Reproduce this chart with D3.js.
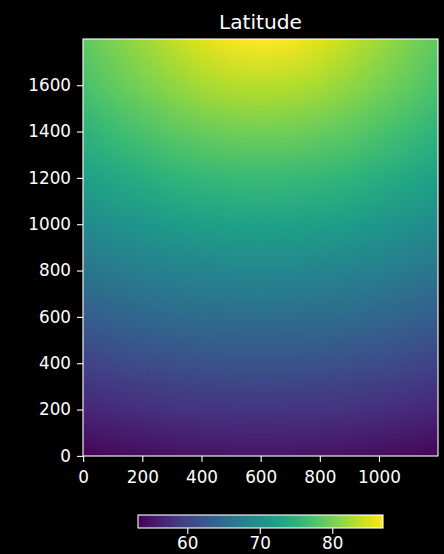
<!DOCTYPE html>
<html>
<head>
<meta charset="utf-8">
<script src="https://cdn.jsdelivr.net/npm/d3@7"></script>
<style>
  body { margin: 0; background: #000; }
  svg { display: block; font-family: "DejaVu Sans", sans-serif; }
  .axis text { fill: #fff; font-size: 16.8px; font-family: "DejaVu Sans", sans-serif; }
  .axis line { stroke: #fff; stroke-width: 1.1; }
  .title { fill: #fff; font-size: 20.2px; font-family: "DejaVu Sans", sans-serif; }
</style>
</head>
<body>
<script>
// latitude field (degrees) on a coarse grid
var xSamples = [0, 100, 200, 300, 400, 500, 600, 700, 800, 900, 1000, 1100, 1200];
var ySamples = [1800, 1600, 1400, 1200, 1000, 800, 600, 400, 200, 0];
var latRows = [
  [78.6, 80.3, 82.1, 83.7, 85.3, 86.5, 87.0, 86.5, 85.3, 83.7, 82.1, 80.3, 78.6],
  [77.1, 78.7, 80.1, 81.3, 82.4, 83.1, 83.3, 83.1, 82.4, 81.3, 80.1, 78.7, 77.1],
  [74.9, 76.2, 77.3, 78.3, 79.0, 79.5, 79.7, 79.5, 79.0, 78.3, 77.3, 76.2, 74.9],
  [72.3, 73.3, 74.2, 75.0, 75.6, 75.9, 76.0, 75.9, 75.6, 75.0, 74.2, 73.3, 72.3],
  [69.3, 70.2, 71.0, 71.6, 72.0, 72.3, 72.4, 72.3, 72.0, 71.6, 71.0, 70.2, 69.3],
  [66.3, 67.0, 67.7, 68.2, 68.5, 68.8, 68.8, 68.8, 68.5, 68.2, 67.7, 67.0, 66.3],
  [63.1, 63.7, 64.3, 64.7, 65.0, 65.2, 65.3, 65.2, 65.0, 64.7, 64.3, 63.7, 63.1],
  [59.9, 60.5, 60.9, 61.3, 61.6, 61.8, 61.8, 61.8, 61.6, 61.3, 60.9, 60.5, 59.9],
  [56.7, 57.2, 57.6, 58.0, 58.2, 58.3, 58.4, 58.3, 58.2, 58.0, 57.6, 57.2, 56.7],
  [53.5, 54.0, 54.3, 54.6, 54.8, 55.0, 55.0, 55.0, 54.8, 54.6, 54.3, 54.0, 53.5]
];
var xExtent = [-0.5, 1199.5];
var yExtent = [-0.5, 1799.5];
var xTicks = [0, 200, 400, 600, 800, 1000];
var yTicks = [0, 200, 400, 600, 800, 1000, 1200, 1400, 1600];
var colorDomain = [53.2, 87.0];
var colorTicks = [60, 70, 80];

var width = 444,
  height = 554;
var margin = { top: 39, right: 6, bottom: 98, left: 83 };
var cbar = { left: 138, right: 383, top: 515, bottom: 528 };
var fmt = d3.format("d");

var svg = d3.select("body")
  .append("svg")
  .attr("width", width)
  .attr("height", height);

svg.append("rect")
  .attr("width", width)
  .attr("height", height)
  .attr("fill", "#000");

var x = d3.scaleLinear()
  .domain(xExtent)
  .range([margin.left, width - margin.right]);

var y = d3.scaleLinear()
  .domain(yExtent)
  .range([height - margin.bottom, margin.top]);

var color = d3.scaleSequential(d3.interpolateViridis)
  .domain(colorDomain);

// paint the grid into a tiny canvas, let the browser smooth it when scaled up
var canvas = document.createElement("canvas");
canvas.width = xSamples.length;
canvas.height = ySamples.length;
var ctx = canvas.getContext("2d");
latRows.forEach(function(row, i) {
  row.forEach(function(v, j) {
    ctx.fillStyle = color(v);
    ctx.fillRect(j, i, 1, 1);
  });
});

var dx = xSamples[1] - xSamples[0];
var dy = ySamples[0] - ySamples[1];

svg.append("clipPath")
  .attr("id", "plot-clip")
  .append("rect")
  .attr("x", x(xExtent[0]))
  .attr("y", y(yExtent[1]))
  .attr("width", x(xExtent[1]) - x(xExtent[0]))
  .attr("height", y(yExtent[0]) - y(yExtent[1]));

svg.append("g")
  .attr("clip-path", "url(#plot-clip)")
  .append("image")
  .attr("href", canvas.toDataURL())
  .attr("preserveAspectRatio", "none")
  .attr("x", x(xSamples[0] - dx / 2))
  .attr("y", y(ySamples[0] + dy / 2))
  .attr("width", x(xSamples[xSamples.length - 1] + dx / 2) - x(xSamples[0] - dx / 2))
  .attr("height", y(ySamples[ySamples.length - 1] - dy / 2) - y(ySamples[0] + dy / 2));

// axes
var xAxis = svg.append("g")
  .attr("class", "axis")
  .attr("transform", "translate(0," + y(yExtent[0]) + ")")
  .call(d3.axisBottom(x).tickValues(xTicks).tickFormat(fmt).tickSize(6).tickPadding(9));
xAxis.select(".domain").remove();

var yAxis = svg.append("g")
  .attr("class", "axis")
  .attr("transform", "translate(" + x(xExtent[0]) + ",0)")
  .call(d3.axisLeft(y).tickValues(yTicks).tickFormat(fmt).tickSize(6).tickPadding(6));
yAxis.select(".domain").remove();

svg.append("rect")
  .attr("x", x(xExtent[0]))
  .attr("y", y(yExtent[1]))
  .attr("width", x(xExtent[1]) - x(xExtent[0]))
  .attr("height", y(yExtent[0]) - y(yExtent[1]))
  .attr("fill", "none")
  .attr("stroke", "#fff")
  .attr("stroke-width", 1.1);

svg.append("text")
  .attr("class", "title")
  .attr("x", (x(xExtent[0]) + x(xExtent[1])) / 2)
  .attr("y", 28.5)
  .attr("text-anchor", "middle")
  .text("Latitude");

// colorbar
var c = d3.scaleLinear()
  .domain(colorDomain)
  .range([cbar.left, cbar.right]);

var grad = svg.append("defs")
  .append("linearGradient")
  .attr("id", "cbar-grad")
  .attr("x1", "0%").attr("x2", "100%")
  .attr("y1", "0%").attr("y2", "0%");

grad.selectAll("stop")
  .data(d3.range(0, 1.0001, 0.02))
  .enter()
  .append("stop")
  .attr("offset", function(d) { return (d * 100) + "%"; })
  .attr("stop-color", function(d) { return d3.interpolateViridis(d); });

svg.append("rect")
  .attr("x", cbar.left)
  .attr("y", cbar.top)
  .attr("width", cbar.right - cbar.left)
  .attr("height", cbar.bottom - cbar.top)
  .attr("fill", "url(#cbar-grad)")
  .attr("stroke", "#fff")
  .attr("stroke-width", 1.1);

// labels lifted a little so they stay inside the page
var cAxis = svg.append("g")
  .attr("class", "axis")
  .attr("transform", "translate(0," + cbar.bottom + ")")
  .call(d3.axisBottom(c).tickValues(colorTicks).tickFormat(fmt).tickSize(6).tickPadding(3.5));
cAxis.select(".domain").remove();
</script>
</body>
</html>
